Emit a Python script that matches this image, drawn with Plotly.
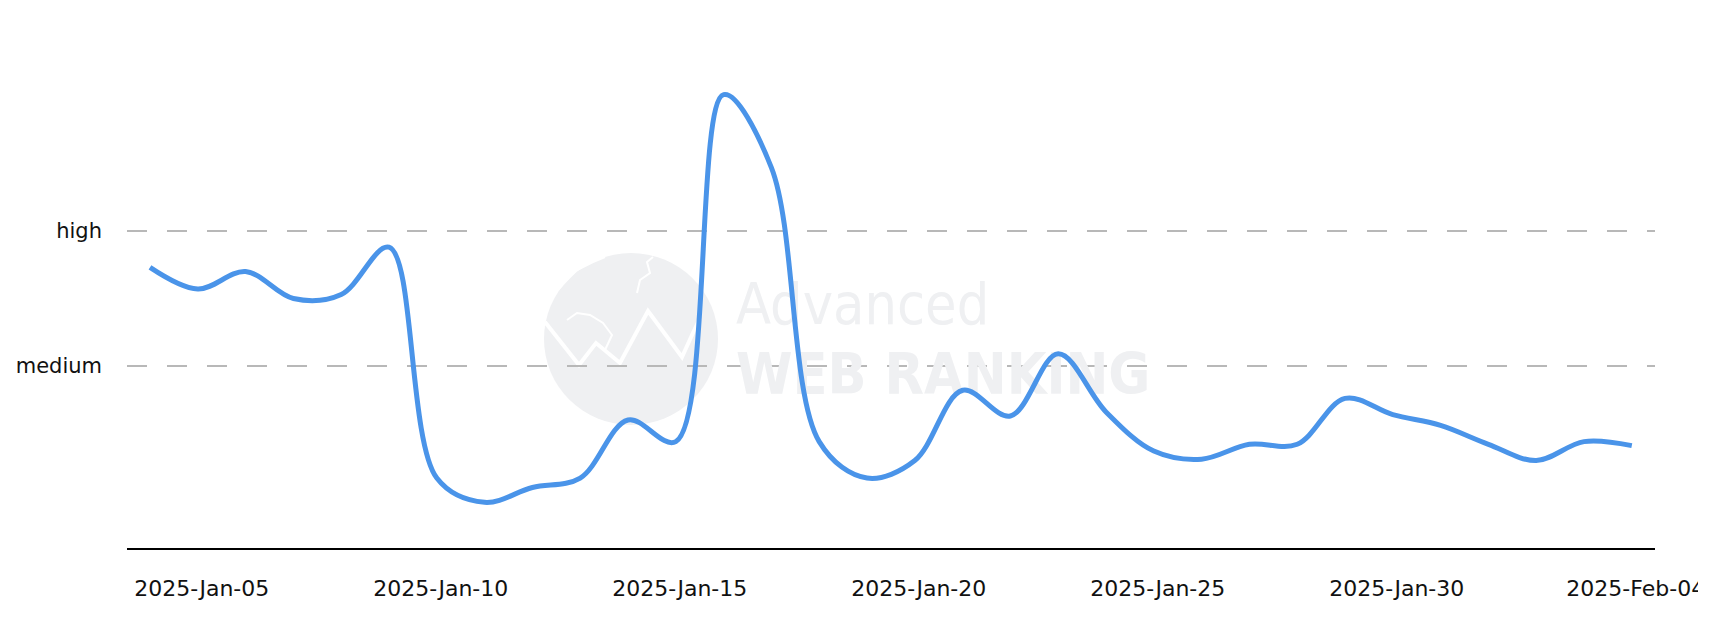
import numpy as np
import pandas as pd
import plotly.graph_objects as go

# ---------------- data ----------------
dates = pd.date_range("2025-01-04", "2025-02-04", freq="D")
values = [2.73, 2.57, 2.70, 2.50, 2.53, 2.88, 1.17, 0.99, 1.10, 1.17,
          1.60, 1.44, 4.01, 3.47, 1.44, 1.17, 1.30, 1.82, 1.63, 2.09,
          1.66, 1.37, 1.31, 1.42, 1.42, 1.76, 1.64, 1.56, 1.42, 1.30,
          1.44, 1.41]
level_values = [2, 3]
level_names = ["medium", "high"]
tick_dates = ["2025-01-05", "2025-01-10", "2025-01-15", "2025-01-20",
              "2025-01-25", "2025-01-30", "2025-02-04"]
tick_labels = ["2025-Jan-05", "2025-Jan-10", "2025-Jan-15", "2025-Jan-20",
               "2025-Jan-25", "2025-Jan-30", "2025-Feb-04"]

# ---------------- geometry ----------------
W, H = 1734, 636
L, R, T, B = 127, 1655, 40, 548
PX_PER_DAY = 47.8
PX_PER_LEVEL = 135.0
FIRST_PX = 150.0
MED_PX = 366.0

day = pd.Timedelta(days=1)
x0 = dates[0] - day * ((FIRST_PX - L) / PX_PER_DAY)
x1 = x0 + day * ((R - L) / PX_PER_DAY)
y_bot = 2 - (B - MED_PX) / PX_PER_LEVEL
y_top = 2 + (MED_PX - T) / PX_PER_LEVEL


def xp(px):
    return (px - L) / (R - L)


def yp(py):
    return (B - py) / (B - T)


def xd(px):
    return x0 + (x1 - x0) * xp(px)


def yd(py):
    return y_bot + (y_top - y_bot) * yp(py)


tick_vals = [pd.Timestamp(d) + pd.Timedelta(hours=2) for d in tick_dates]

WM = "#eff0f2"
fig = go.Figure()

# watermark text (drawn as a trace so the data line stays on top)
fig.add_trace(go.Scatter(
    x=[xd(736), xd(736)], y=[yd(310), yd(380)],
    mode="text", text=["Advanced", "<b>WEB RANKING</b>"],
    textposition="middle right",
    textfont=dict(family="Liberation Sans Narrow, DejaVu Sans Condensed, Roboto",
                  size=[57, 57], color=WM),
    hoverinfo="skip", showlegend=False,
))

fig.add_trace(go.Scatter(
    x=dates, y=values, mode="lines",
    line=dict(color="#4a94e9", width=5, shape="spline", smoothing=1.0),
    hoverinfo="skip", showlegend=False,
))

# globe watermark shapes
cx, cy, rx, ry = 631, 339, 87, 86
shapes = [dict(type="circle", xref="paper", yref="paper", layer="below",
               x0=xp(cx - rx), x1=xp(cx + rx), y0=yp(cy + ry), y1=yp(cy - ry),
               fillcolor=WM, line=dict(width=0))]


def path_of(pts, close=True):
    s = "M " + " L ".join(f"{xp(a):.5f},{yp(b):.5f}" for a, b in pts)
    return s + (" Z" if close else "")


w_line = [(545, 322), (579, 365), (596, 343), (620, 363), (648, 311),
          (682, 357), (692, 335), (700, 318)]
shapes.append(dict(type="path", xref="paper", yref="paper", layer="below",
                   path=path_of(w_line, close=False),
                   line=dict(color="white", width=4)))
# faint continent outlines
na = [(556, 292), (567, 280), (577, 270), (593, 262), (605, 257)]
sa = [(567, 320), (577, 313), (590, 315), (603, 323), (612, 335), (605, 350)]
ea = [(637, 293), (640, 280), (650, 273), (647, 262), (653, 257)]
for poly in (na, sa, ea):
    shapes.append(dict(type="path", xref="paper", yref="paper", layer="below",
                       path=path_of(poly, close=False),
                       line=dict(color="white", width=2)))
# right edge clipping of the last tick label, as in the original
shapes.append(dict(type="rect", xref="paper", yref="paper", layer="above",
                   x0=xp(1698), x1=xp(1760), y0=yp(H + 10), y1=yp(560),
                   fillcolor="white", line=dict(width=0)))

fig.update_layout(
    template="none",
    width=W, height=H,
    margin=dict(l=L, r=W - R, t=T, b=H - B, pad=0),
    paper_bgcolor="white", plot_bgcolor="white",
    showlegend=False,
    shapes=shapes,
    font=dict(family="DejaVu Sans", size=20, color="#111111"),
)
fig.update_xaxes(
    type="date", range=[x0, x1], autorange=False,
    showgrid=False, zeroline=False,
    showline=True, linecolor="black", linewidth=2,
    tickmode="array", tickvals=tick_vals, ticktext=tick_labels,
    ticks="", ticklabelstandoff=20,
    tickfont=dict(family="DejaVu Sans", size=22, color="#111111"),
    automargin=False,
)
fig.update_yaxes(
    range=[y_bot, y_top], autorange=False,
    showgrid=True, gridcolor="#b8b8b8", gridwidth=1.5, griddash="20px,20px",
    zeroline=False, showline=False,
    tickmode="array", tickvals=level_values, ticktext=level_names,
    ticks="", ticklabelstandoff=24,
    tickfont=dict(family="DejaVu Sans", size=21, color="#111111"),
    automargin=False,
)

fig.write_html("out.html")
